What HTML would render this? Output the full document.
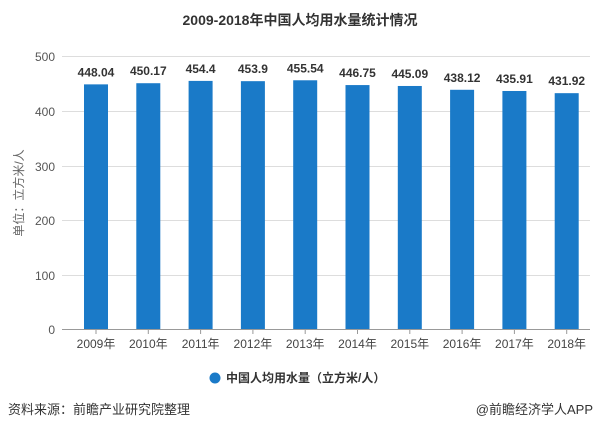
<!DOCTYPE html>
<html><head><meta charset="utf-8"><style>
body{margin:0;background:#fff;width:601px;height:430px;overflow:hidden}
svg text{font-family:"Liberation Sans","Noto Sans CJK SC",sans-serif}
</style></head><body>
<svg width="601" height="430" xmlns="http://www.w3.org/2000/svg">
<text x="300" y="25" text-anchor="middle" font-size="14" font-weight="bold" fill="#333">2009-2018年中国人均用水量统计情况</text>
<g stroke="#ddd" stroke-width="1">
<line x1="62" y1="56.5" x2="590" y2="56.5"/>
<line x1="62" y1="111.5" x2="590" y2="111.5"/>
<line x1="62" y1="166.5" x2="590" y2="166.5"/>
<line x1="62" y1="220.5" x2="590" y2="220.5"/>
<line x1="62" y1="275.5" x2="590" y2="275.5"/>
</g>
<g font-size="12" fill="#555" text-anchor="end">
<text x="55" y="61">500</text><text x="55" y="116">400</text><text x="55" y="171">300</text><text x="55" y="225">200</text><text x="55" y="280">100</text><text x="55" y="334">0</text>
</g>
<text transform="translate(23,193) rotate(-90)" text-anchor="middle" font-size="12" fill="#666">单位：立方米/人</text>
<g fill="#1a7ac8">
<rect x="84" y="84.37" width="24" height="244.63"/>
<rect x="136.3" y="83.21" width="24" height="245.79"/>
<rect x="188.6" y="80.9" width="24" height="248.1"/>
<rect x="240.9" y="81.17" width="24" height="247.83"/>
<rect x="293.2" y="80.28" width="24" height="248.72"/>
<rect x="345.5" y="85.07" width="24" height="243.93"/>
<rect x="397.8" y="85.98" width="24" height="243.02"/>
<rect x="450.1" y="89.79" width="24" height="239.21"/>
<rect x="502.4" y="90.99" width="24" height="238.01"/>
<rect x="554.7" y="93.17" width="24" height="235.83"/>
</g>
<line x1="62" y1="329.5" x2="590" y2="329.5" stroke="#999"/>
<g font-size="12" font-weight="bold" fill="#333" text-anchor="middle">
<text x="96" y="76.4">448.04</text>
<text x="148.3" y="75.2">450.17</text>
<text x="200.6" y="72.9">454.4</text>
<text x="252.9" y="73.2">453.9</text>
<text x="305.2" y="72.3">455.54</text>
<text x="357.5" y="77.1">446.75</text>
<text x="409.8" y="78">445.09</text>
<text x="462.1" y="81.8">438.12</text>
<text x="514.4" y="83">435.91</text>
<text x="566.7" y="85.2">431.92</text>
</g>
<g stroke="#999">
<line x1="96" y1="329" x2="96" y2="334"/><line x1="148.3" y1="329" x2="148.3" y2="334"/><line x1="200.6" y1="329" x2="200.6" y2="334"/><line x1="252.9" y1="329" x2="252.9" y2="334"/><line x1="305.2" y1="329" x2="305.2" y2="334"/><line x1="357.5" y1="329" x2="357.5" y2="334"/><line x1="409.8" y1="329" x2="409.8" y2="334"/><line x1="462.1" y1="329" x2="462.1" y2="334"/><line x1="514.4" y1="329" x2="514.4" y2="334"/><line x1="566.7" y1="329" x2="566.7" y2="334"/>
</g>
<g font-size="12" fill="#444" text-anchor="middle">
<text x="96" y="348">2009年</text><text x="148.3" y="348">2010年</text><text x="200.6" y="348">2011年</text><text x="252.9" y="348">2012年</text><text x="305.2" y="348">2013年</text><text x="357.5" y="348">2014年</text><text x="409.8" y="348">2015年</text><text x="462.1" y="348">2016年</text><text x="514.4" y="348">2017年</text><text x="566.7" y="348">2018年</text>
</g>
<circle cx="215" cy="378" r="5.5" fill="#1a7ac8"/>
<text x="226" y="382" font-size="12" font-weight="bold" fill="#333">中国人均用水量（立方米/人）</text>
<text x="8" y="414" font-size="13" fill="#333">资料来源：前瞻产业研究院整理</text>
<text x="593" y="414" font-size="13" fill="#333" text-anchor="end">@前瞻经济学人APP</text>
</svg>
</body></html>
